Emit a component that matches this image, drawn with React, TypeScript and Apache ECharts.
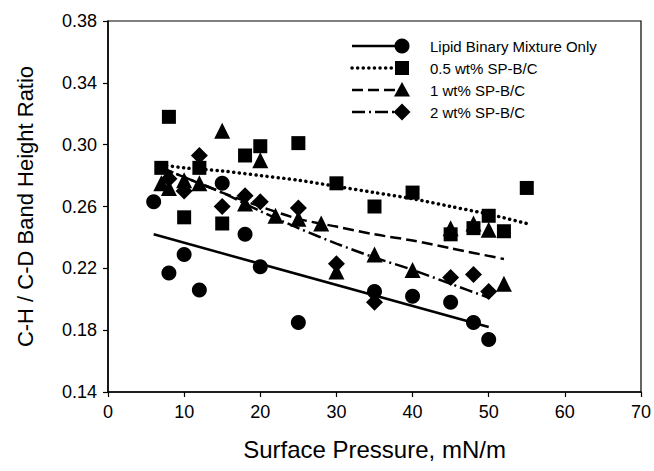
import React, { useEffect, useRef } from "react";
import * as echarts from "echarts";

// ---- Data ----
const pressureLipid = [6, 8, 10, 12, 15, 18, 20, 25, 35, 40, 45, 48, 50];
const ratioLipid = [0.263, 0.217, 0.229, 0.206, 0.275, 0.242, 0.221, 0.185, 0.205, 0.202, 0.198, 0.185, 0.174];

const pressure05 = [7, 8, 10, 12, 15, 18, 20, 25, 30, 35, 40, 45, 48, 50, 52, 55];
const ratio05 = [0.285, 0.318, 0.253, 0.285, 0.249, 0.293, 0.299, 0.301, 0.275, 0.26, 0.269, 0.242, 0.246, 0.254, 0.244, 0.272];

const pressure1 = [7, 8, 10, 12, 15, 18, 20, 22, 25, 28, 30, 35, 40, 45, 48, 50, 52];
const ratio1 = [0.275, 0.272, 0.277, 0.275, 0.309, 0.262, 0.29, 0.254, 0.252, 0.249, 0.218, 0.229, 0.219, 0.246, 0.249, 0.245, 0.21];

const pressure2 = [8, 10, 12, 15, 18, 20, 25, 30, 35, 45, 48, 50];
const ratio2 = [0.278, 0.27, 0.293, 0.26, 0.267, 0.263, 0.259, 0.223, 0.198, 0.214, 0.216, 0.205];

// fitted trend lines
const fitLipidX = [6, 50];
const fitLipidY = [0.242, 0.182];
const fit05X = [7, 10, 15, 20, 25, 30, 35, 40, 45, 50, 55];
const fit05Y = [0.287, 0.285, 0.283, 0.28, 0.277, 0.273, 0.269, 0.265, 0.26, 0.255, 0.249];
const fit1X = [7, 10, 15, 20, 25, 30, 35, 40, 45, 52];
const fit1Y = [0.285, 0.279, 0.269, 0.26, 0.252, 0.247, 0.242, 0.238, 0.233, 0.226];
const fit2X = [7, 10, 15, 20, 25, 30, 35, 40, 45, 50];
const fit2Y = [0.285, 0.279, 0.269, 0.257, 0.246, 0.236, 0.227, 0.219, 0.21, 0.201];

const seriesNames = ["Lipid Binary Mixture Only", "0.5 wt% SP-B/C", "1 wt% SP-B/C", "2 wt% SP-B/C"];
const yTicks = [0.14, 0.18, 0.22, 0.26, 0.3, 0.34, 0.38];
const xTicks = [0, 10, 20, 30, 40, 50, 60, 70];

const FONT = "'Liberation Sans', Arial, Helvetica, sans-serif";

function zip(xs: number[], ys: number[]) {
  return xs.map((x, i) => [x, ys[i]]);
}

export default function App() {
  const ref = useRef<HTMLDivElement>(null);

  useEffect(() => {
    if (!ref.current) return;
    const chart = echarts.init(ref.current, undefined, { renderer: "svg" });

    const lineStyles: any[] = [
      { type: "solid", width: 2.5 },
      { type: [0.1, 5.5], width: 3.5, cap: "round" },
      { type: [11, 5], width: 2.5 },
      { type: [13, 4, 2, 4], width: 2.5 },
    ];
    const fits = [
      zip(fitLipidX, fitLipidY),
      zip(fit05X, fit05Y),
      zip(fit1X, fit1Y),
      zip(fit2X, fit2Y),
    ];
    const points = [
      zip(pressureLipid, ratioLipid),
      zip(pressure05, ratio05),
      zip(pressure1, ratio1),
      zip(pressure2, ratio2),
    ];
    const symbols = ["circle", "rect", "triangle", "diamond"];
    const sizes = [15, 14, 16, 17];

    const series: any[] = [];
    fits.forEach((d, i) => {
      series.push({
        type: "line",
        data: d,
        symbol: "none",
        smooth: i === 0 ? false : 0.3,
        lineStyle: { color: "#000", opacity: 1, ...lineStyles[i] },
        z: 2,
        silent: true,
      });
    });
    points.forEach((d, i) => {
      series.push({
        name: seriesNames[i],
        type: "scatter",
        data: d,
        symbol: symbols[i],
        symbolSize: sizes[i],
        itemStyle: { color: "#000", opacity: 1 },
        z: 3,
      });
    });

    // legend drawn with graphic elements (line sample with marker at right end)
    const legendX0 = 352;
    const legendX1 = 400;
    const legendTop = 46;
    const legendGap = 22;
    const graphics: any[] = [];
    seriesNames.forEach((name, i) => {
      const y = legendTop + i * legendGap;
      const ls = lineStyles[i];
      graphics.push({
        type: "line",
        shape: { x1: legendX0, y1: y, x2: legendX1, y2: y },
        style: {
          stroke: "#000",
          lineWidth: ls.width,
          lineDash: Array.isArray(ls.type) ? ls.type : null,
          lineCap: ls.cap || "butt",
        },
      });
      const mx = 402;
      if (i === 0) {
        graphics.push({ type: "circle", shape: { cx: mx, cy: y, r: 7.5 }, style: { fill: "#000" } });
      } else if (i === 1) {
        graphics.push({ type: "rect", shape: { x: mx - 7, y: y - 7, width: 14, height: 14 }, style: { fill: "#000" } });
      } else if (i === 2) {
        graphics.push({
          type: "polygon",
          shape: { points: [[mx, y - 8], [mx + 8, y + 6.5], [mx - 8, y + 6.5]] },
          style: { fill: "#000" },
        });
      } else {
        graphics.push({
          type: "polygon",
          shape: { points: [[mx, y - 8.5], [mx + 8.5, y], [mx, y + 8.5], [mx - 8.5, y]] },
          style: { fill: "#000" },
        });
      }
      graphics.push({
        type: "text",
        x: 430,
        y: y,
        style: {
          text: name,
          fill: "#000",
          font: `15px ${FONT}`,
          verticalAlign: "middle",
          align: "left",
        },
      });
    });

    chart.setOption({
      animation: false,
      backgroundColor: "#fff",
      textStyle: { fontFamily: FONT },
      grid: {
        left: 108,
        right: 13,
        top: 21,
        bottom: 79,
        show: true,
        borderColor: "#000",
        borderWidth: 1.2,
        containLabel: false,
      },
      xAxis: {
        type: "value",
        min: 0,
        max: 70,
        interval: 10,
        name: "Surface Pressure, mN/m",
        nameLocation: "middle",
        nameGap: 45,
        nameTextStyle: { fontSize: 24, color: "#000", fontFamily: FONT },
        axisLine: { show: true, lineStyle: { color: "#000", width: 1.5 } },
        axisTick: { show: true, inside: false, length: 5, lineStyle: { color: "#000", width: 1.2 } },
        axisLabel: {
          color: "#000",
          fontSize: 18,
          margin: 11,
          fontFamily: FONT,
          customValues: xTicks,
        },
        splitLine: { show: false },
      },
      yAxis: {
        type: "value",
        min: 0.14,
        max: 0.38,
        name: "C-H / C-D Band Height Ratio",
        nameLocation: "middle",
        nameGap: 72,
        nameRotate: 90,
        nameTextStyle: { fontSize: 22, color: "#000", fontFamily: FONT },
        axisLine: { show: true, lineStyle: { color: "#000", width: 1.5 } },
        axisTick: {
          show: true,
          inside: false,
          length: 5,
          lineStyle: { color: "#000", width: 1.2 },
          customValues: yTicks,
        },
        axisLabel: {
          color: "#000",
          fontSize: 18,
          margin: 11,
          fontFamily: FONT,
          customValues: yTicks,
          formatter: (v: number) => v.toFixed(2),
        },
        splitLine: { show: false },
      },
      graphic: graphics,
      series,
    });

    return () => chart.dispose();
  }, []);

  return (
    <div
      ref={ref}
      style={{ position: "absolute", left: 0, top: 0, width: 654, height: 471 }}
    />
  );
}
